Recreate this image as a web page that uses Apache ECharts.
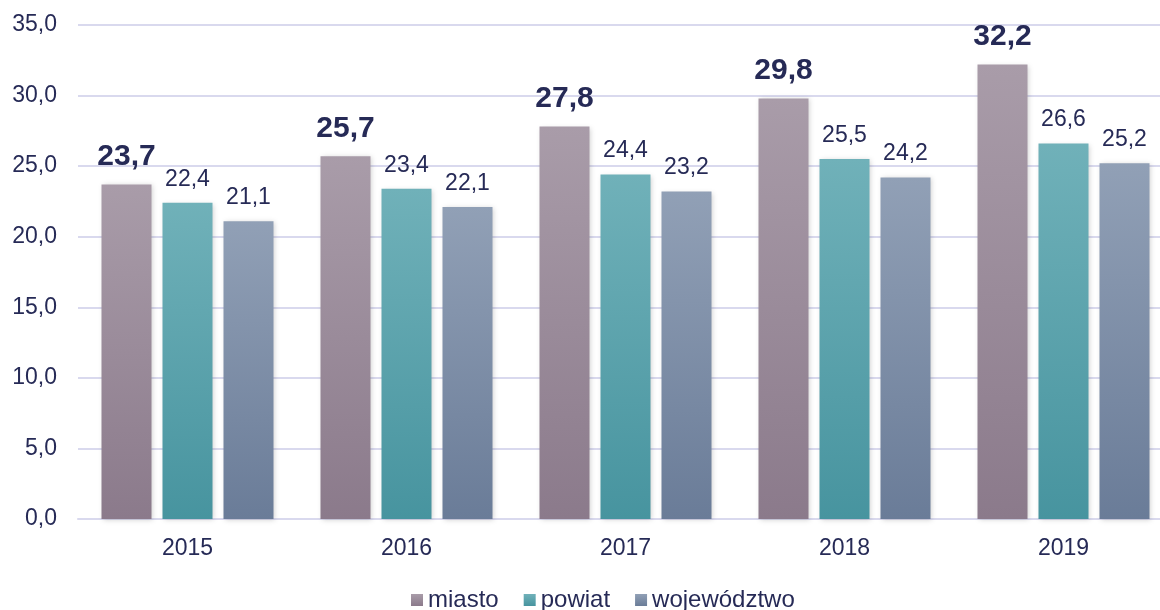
<!DOCTYPE html>
<html>
<head>
<meta charset="utf-8">
<title>ECharts</title>
<script src="https://cdn.jsdelivr.net/npm/echarts@6/dist/echarts.min.js"></script>
<style>
  * { margin: 0; padding: 0; }
  body { background: #fff; }
  #main { width: 1160px; height: 610px; }
</style>
</head>
<body>
<div id="main"></div>
<script>
// dane
var years = ['2015', '2016', '2017', '2018', '2019'];
var miasto = [23.7, 25.7, 27.8, 29.8, 32.2];
var powiat = [22.4, 23.4, 24.4, 25.5, 26.6];
var wojewodztwo = [21.1, 22.1, 23.2, 24.2, 25.2];
var seriesNames = ['miasto', 'powiat', 'województwo'];

var textColor = '#262a56';
var font = 'Liberation Sans, Arial, sans-serif';

function grad(top, bottom) {
  return new echarts.graphic.LinearGradient(0, 0, 0, 1, [
    { offset: 0, color: top },
    { offset: 1, color: bottom }
  ]);
}

function fmt(p) {
  return p.value.toFixed(1).replace('.', ',');
}

var shadow = { shadowColor: 'rgba(0,0,0,0.18)', shadowBlur: 5, shadowOffsetX: 1, shadowOffsetY: 1 };

var myChart = echarts.init(document.getElementById('main'));
var option = {
  animation: false,
  legend: {
    top: 588,
    left: 411,
    padding: 0,
    itemWidth: 12,
    itemHeight: 12,
    itemGap: 25,
    icon: 'rect',
    textStyle: { color: textColor, fontSize: 24, fontFamily: font, padding: [0, 0, 0, 0] },
    data: seriesNames
  },
  grid: { left: 78, top: 25, width: 1095, height: 494, outerBoundsMode: 'none' },
  xAxis: {
    type: 'category',
    data: years,
    axisLine: { lineStyle: { color: '#d9d9ee', width: 2 } },
    axisTick: { show: false },
    axisLabel: { color: textColor, fontSize: 23, fontFamily: font, margin: 18 }
  },
  yAxis: {
    type: 'value',
    min: 0,
    max: 35,
    interval: 5,
    axisLine: { show: false },
    axisTick: { show: false },
    splitLine: { lineStyle: { color: '#d9d9ee', width: 2 } },
    axisLabel: {
      color: textColor, fontSize: 23, fontFamily: font, margin: 21,
      formatter: function (v) { return v.toFixed(1).replace('.', ','); }
    }
  },
  series: [
    {
      name: 'miasto',
      type: 'bar',
      data: miasto,
      barWidth: 50,
      barGap: '22%',
      itemStyle: Object.assign({ color: grad('#a99ca9', '#8b7a8b') }, shadow),
      label: { show: true, position: 'top', distance: 13, color: textColor, fontSize: 30, fontWeight: 'bold', fontFamily: font, formatter: fmt }
    },
    {
      name: 'powiat',
      type: 'bar',
      data: powiat,
      barWidth: 50,
      barGap: '22%',
      itemStyle: Object.assign({ color: grad('#70b1b9', '#47949f') }, shadow),
      label: { show: true, position: 'top', distance: 12, color: textColor, fontSize: 23, fontFamily: font, formatter: fmt }
    },
    {
      name: 'województwo',
      type: 'bar',
      data: wojewodztwo,
      barWidth: 50,
      barGap: '22%',
      itemStyle: Object.assign({ color: grad('#91a0b6', '#6a7c98') }, shadow),
      label: { show: true, position: 'top', distance: 12, color: textColor, fontSize: 23, fontFamily: font, formatter: fmt }
    }
  ],
  color: ['#9b8c9b', '#5aa3ac', '#7f8fa9']
};
myChart.setOption(option);
</script>
</body>
</html>
